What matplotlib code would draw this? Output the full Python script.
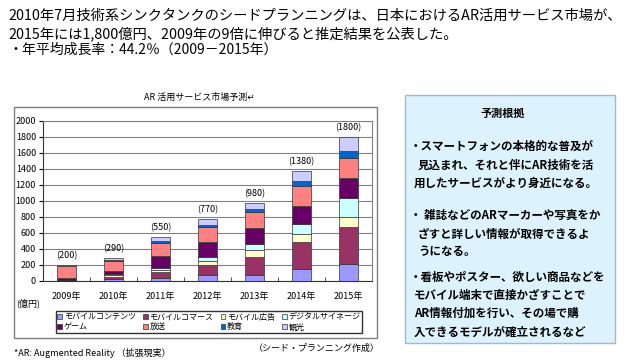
import numpy as np
import matplotlib.pyplot as plt
from matplotlib.patches import Rectangle, Patch

plt.rcParams['font.family'] = ['Noto Sans CJK JP', 'DejaVu Sans']

# market forecast by segment (億円)
years = ['2009年', '2010年', '2011年', '2012年', '2013年', '2014年', '2015年']
totals = [200, 290, 550, 770, 980, 1380, 1800]
segments = ['モバイルコンテンツ', 'モバイルコマース', 'モバイル広告', 'デジタルサイネージ',
            'ゲーム', '放送', '教育', '観光']
content = [0, 25, 40, 75, 80, 150, 210]
commerce = [10, 30, 70, 120, 225, 335, 460]
ads = [5, 20, 30, 60, 80, 105, 135]
signage = [0, 15, 20, 50, 75, 120, 230]
game = [25, 40, 150, 180, 205, 225, 250]
broadcast = [150, 125, 170, 185, 195, 250, 250]
education = [0, 10, 20, 25, 40, 65, 95]
tourism = [10, 25, 50, 75, 80, 130, 170]
colors = ['#9999FF', '#993366', '#FFFFCC', '#CCFFFF', '#660066', '#FF8080', '#0066CC', '#CCCCFF']

W, H = 630, 363
fig = plt.figure(figsize=(W / 100, H / 100), dpi=100)

def fx(x):
    return x / W

def fy(y):
    return 1 - y / H

# headline text
fig.text(fx(8), fy(16), '2010年7月技術系シンクタンクのシードプランニングは、日本におけるAR活用サービス市場が、',
         fontsize=10.3, va='center', ha='left')
fig.text(fx(8), fy(34), '2015年には1,800億円、2009年の9倍に伸びると推定結果を公表した。',
         fontsize=10.3, va='center', ha='left')
fig.text(fx(8), fy(50), '・年平均成長率：44.2％（2009－2015年）',
         fontsize=10, va='center', ha='left')

# outer chart frame
fig.patches.append(Rectangle((fx(14), fy(338)), fx(363), (338 - 107) / H,
                             transform=fig.transFigure, fill=False,
                             edgecolor='#7f7f7f', lw=1.0))
fig.text(fx(199), fy(97), 'AR 活用サービス市場予測↵', fontsize=6.5, ha='center', va='center')

ax = fig.add_axes([fx(43), fy(281), (372 - 43) / W, (281 - 121) / H])
x = np.arange(len(years))
data = [content, commerce, ads, signage, game, broadcast, education, tourism]
bottom = np.zeros(len(years))
for vals, c in zip(data, colors):
    ax.bar(x, vals, 0.39, bottom=bottom, color=c, edgecolor='#333333', lw=0.5, zorder=3)
    bottom += np.array(vals)

for xi, t in zip(x, totals):
    ax.text(xi, t + 60, '(%d)' % t, ha='center', va='bottom', fontsize=6.5)

ax.set_xlim(-0.5, len(years) - 0.5)
ax.set_ylim(0, 2000)
ax.set_yticks(np.arange(0, 2001, 200))
ax.yaxis.grid(True, color='#808080', lw=0.8, zorder=0)
ax.set_xticks(x)
ax.set_xticklabels(years)
ax.set_xticks(np.arange(0.5, len(years) - 0.5), minor=True)
ax.tick_params(axis='x', which='major', length=0, labelsize=6.5, pad=8)
ax.tick_params(axis='x', which='minor', length=3, direction='in', color='#333333')
ax.tick_params(axis='y', labelsize=6.5, length=3, pad=2)
for s in ['top', 'right']:
    ax.spines[s].set_color('#808080')
ax.spines['left'].set_color('#333333')
ax.spines['bottom'].set_color('#333333')
fig.text(fx(28), fy(303), '(億円)', fontsize=6.5, ha='center', va='center')

# legend, row-major order over 4 columns
handles = [Patch(facecolor=c, edgecolor='#333333', lw=0.5) for c in colors]
order = [0, 4, 1, 5, 2, 6, 3, 7]
fig.legend([handles[i] for i in order], [segments[i] for i in order], ncol=4,
           loc='center', bbox_to_anchor=(fx(209), fy(322)),
           fontsize=5.8, frameon=True, fancybox=False, edgecolor='black',
           handlelength=0.6, handleheight=0.6, handletextpad=0.2,
           borderpad=0.15, labelspacing=0.1, columnspacing=0.9, borderaxespad=0)

fig.text(fx(14), fy(353), '*AR: Augmented Reality （拡張現実）', fontsize=6.5, ha='left', va='center')
fig.text(fx(380), fy(348), '（シード・プランニング作成）', fontsize=6.5, ha='right', va='center')

# forecast basis box
fig.patches.append(Rectangle((fx(405), fy(343)), (615 - 405) / W, (343 - 95) / H,
                             transform=fig.transFigure, facecolor='#DCF3FD',
                             edgecolor='#9DB9D9', lw=1.0))
fig.text(fx(503), fy(113), '予測根拠', fontsize=8, fontweight='bold', ha='center', va='center')
lines = [
    (410, 146, '・スマートフォンの本格的な普及が'),
    (418, 165, '見込まれ、それと伴にAR技術を活'),
    (414, 183, '用したサービスがより身近になる。'),
    (410, 215, '・ 雑誌などのARマーカーや写真をか'),
    (418, 234, 'ざすと詳しい情報が取得できるよ'),
    (418, 252, 'うになる。'),
    (410, 277, '・看板やポスター、欲しい商品などを'),
    (414, 295, 'モバイル端末で直接かざすことで'),
    (414, 313, 'AR情報付加を行い、その場で購'),
    (414, 332, '入できるモデルが確立されるなど'),
]
for lx, ly, s in lines:
    fig.text(fx(lx), fy(ly), s, fontsize=8.3, fontweight='bold', ha='left', va='center')

fig.savefig('out.png', dpi=100)
